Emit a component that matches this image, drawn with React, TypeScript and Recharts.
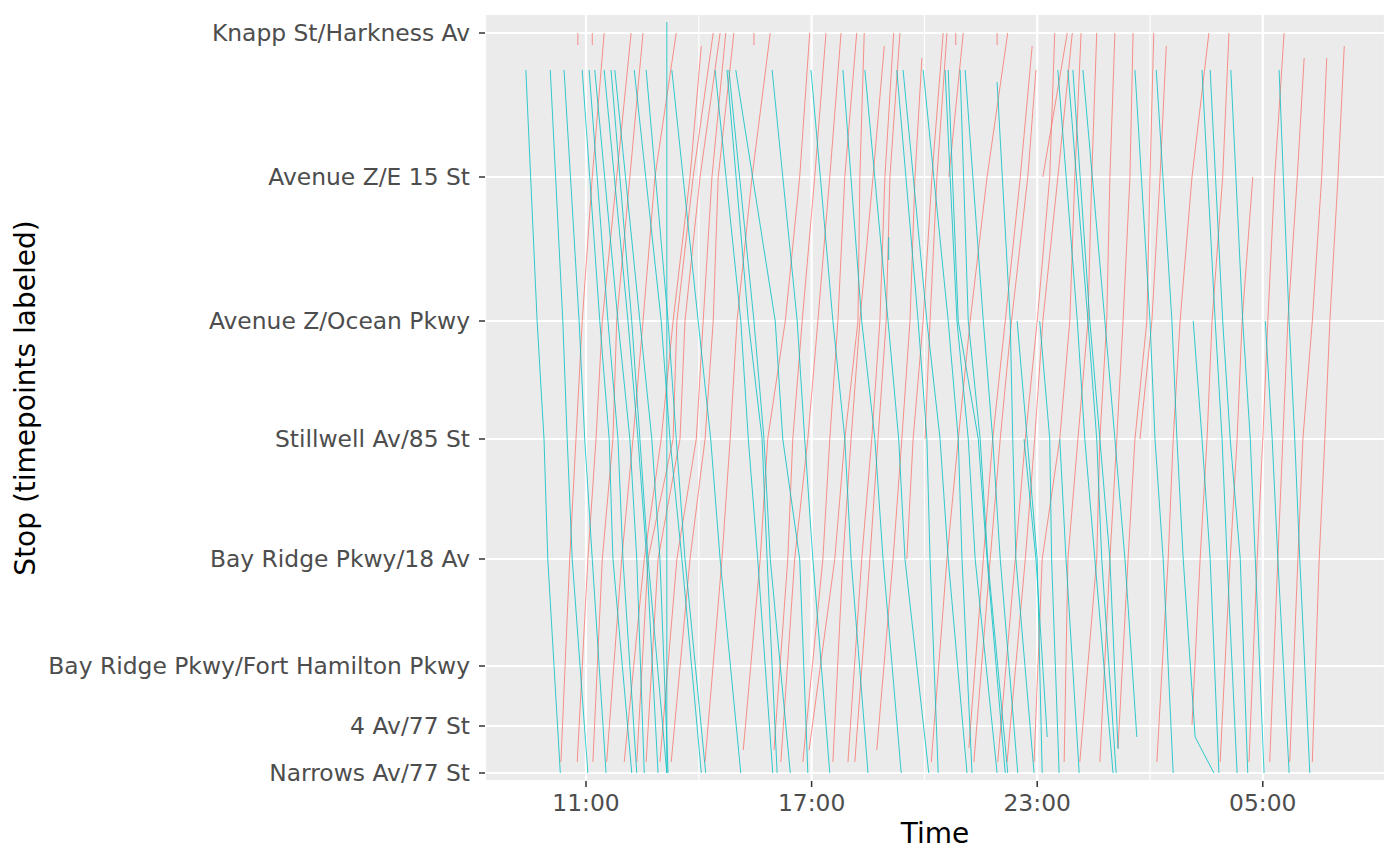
import React from 'react';
import { LineChart, Line, XAxis, YAxis, CartesianGrid } from 'recharts';

// Timepoint stops along the route, with their position along the line (bottom = Narrows)
const STOPS = [
  'Narrows Av/77 St',
  '4 Av/77 St',
  'Bay Ridge Pkwy/Fort Hamilton Pkwy',
  'Bay Ridge Pkwy/18 Av',
  'Stillwell Av/85 St',
  'Avenue Z/Ocean Pkwy',
  'Avenue Z/E 15 St',
  'Knapp St/Harkness Av',
];
const STOP_DIST = [0, 0.47, 1.07, 2.14, 3.34, 4.52, 5.96, 7.4];

const TIME_TICKS = [11, 17, 23, 29];
const TIME_MINOR = [14, 20, 26];

// Stops where southbound (toward Narrows) trips are logged
const SOUTH_AT = [7.03, 4.52, 3.34, 2.14, 0.36, 0];
// Stops where northbound (toward Knapp St) trips are logged
const NORTH_AT = [0.11, 2.14, 3.34, 4.52, 5.96, 7.4];

type Row = (string | null)[] | { t: (string | null)[]; from?: number; to?: number };

const southbound: Row[] = [
  ['9:24', '9:42', '9:53', '9:59', null, '10:19'],
  ['10:03', '10:23', '10:30', '10:38', null, '11:03'],
  ['10:25', '10:49', '10:58', '11:10', null, '11:32'],
  ['10:54', '11:22', '11:37', '11:43', null, '12:13'],
  ['11:05', '11:35', '11:51', '11:59', null, '12:21'],
  ['11:14', '11:51', '12:10', '12:21', null, '12:33'],
  ['11:29', '12:07', '12:23', '12:37', null, '12:55'],
  ['11:40', '12:13', '12:26', '12:39', null, '13:09'],
  ['11:46', '12:26', '12:45', '12:58', null, '13:11'],
  ['12:17', '13:00', '13:14', '13:33', null, '14:04'],
  ['12:36', '13:11', '13:24', '13:38', null, '14:11'],
  { t: ['13:09', null, null, null, null, '13:09'], from: 7.51 },
  ['13:17', '13:59', '14:19', '14:34', null, '15:07'],
  ['14:26', '15:07', '15:19', '15:34', null, '15:58'],
  ['14:45', '15:19', '15:41', '15:49', null, '16:05'],
  ['14:48', '15:28', '15:44', '15:54', null, '16:26'],
  ['14:59', '16:02', '16:14', '16:41', null, '16:54'],
  ['15:57', '16:37', '16:49', '17:02', null, '17:29'],
  ['16:59', '17:34', '17:53', '18:03', null, '18:30'],
  ['17:50', '18:20', '18:41', '18:54', null, '19:23'],
  ['18:25', '19:02', '19:19', '19:29', null, '20:07'],
  { t: ['19:03', '19:03', null, null, null, null], from: 5.36, to: 5.13 },
  ['19:16', '19:50', '20:04', '20:09', null, '20:22'],
  ['19:26', '20:04', '20:25', '20:38', null, '21:08'],
  ['19:58', '20:38', '20:54', '21:00', null, '21:16'],
  ['20:33', '20:52', '21:10', '21:21', null, '21:56'],
  ['20:38', '20:54', '21:26', '21:40', null, '22:09'],
  ['20:57', '21:10', '21:29', '21:41', null, '22:13'],
  ['21:05', '21:34', '21:49', '22:01', null, '22:29'],
  { t: ['21:56', '22:17', '22:21', '22:26', null, '22:55'], from: 6.91 },
  [null, '22:28', '22:44', '23:00', null, '23:08'],
  [null, null, '22:39', '22:58', '23:16', null],
  [null, '23:04', '23:20', '23:23', null, '23:35'],
  [null, null, '23:36', '23:46', null, '24:07'],
  ['23:33', '24:04', '24:16', '24:32', null, '25:01'],
  ['23:49', '24:21', '24:35', '24:43', null, '25:06'],
  { t: ['23:57', '24:24', '24:40', '24:56', '25:09', null], to: 0.24 },
  ['24:13', '24:48', '25:04', '25:20', '25:39', null],
  ['25:36', '26:00', '26:08', '26:21', null, '26:37'],
  ['26:10', '26:35', '26:43', '26:53', '27:12', '27:42'],
  [null, '27:09', '27:23', '27:36', null, '27:50'],
  ['27:23', '27:44', '27:55', '28:03', null, '28:19'],
  ['27:36', '27:56', '28:08', '28:24', null, '28:36'],
  ['28:09', '28:28', '28:40', '28:48', null, '29:02'],
  [null, '29:04', '29:15', '29:24', null, '29:42'],
  ['29:26', '29:42', '29:51', '29:59', null, '30:15'],
];

const northbound: Row[] = [
  ['10:20', '10:34', '10:44', '10:54', '11:10', '11:29'],
  ['10:46', '11:03', '11:16', '11:26', '11:49', '12:12'],
  ['11:11', '11:26', '11:43', '11:49', '12:10', '12:31'],
  ['11:33', '11:57', '12:15', '12:31', '12:50', '13:24'],
  { t: ['12:01', '12:33', '13:00', '13:19', '13:46', '14:04'], to: 7.27 },
  ['12:21', '12:39', '13:19', '13:25', '13:51', '14:23'],
  ['12:36', '12:55', '13:30', '13:38', '14:02', '14:34'],
  ['12:58', '13:25', '13:56', '14:07', '14:21', '14:43'],
  ['13:16', '13:46', '14:10', '14:23', '14:31', '14:56'],
  ['14:10', '14:37', '14:50', '15:01', '15:25', '15:54'],
  { t: ['15:11', '15:38', '15:50', '16:18', '16:41', '16:57'], from: 0.23 },
  { t: ['16:00', '16:22', '16:30', '16:45', '17:05', '17:23'], from: 0.23 },
  ['16:11', '16:33', '16:54', '17:10', '17:29', '17:47'],
  ['16:46', '17:18', '17:29', '17:42', '17:53', '18:12'],
  { t: ['16:56', '17:37', '17:53', '18:14', '18:17', '18:24'], from: 0.23 },
  { t: ['17:34', '17:50', '18:03', '18:17', '18:38', '18:56'], to: 7.27 },
  ['17:58', '18:20', '18:36', '18:49', '18:57', '19:11'],
  ['18:09', '18:33', '18:46', '18:59', '19:05', '19:21'],
  { t: ['18:44', '19:10', '19:24', '19:37', '19:45', '19:56'], from: 0.23, to: 7.15 },
  [null, '19:32', '19:42', '19:58', '20:12', '20:30'],
  [null, null, '20:01', '20:09', '20:20', '20:36'],
  [null, null, null, null, '20:39', '21:02'],
  ['20:11', '20:36', '20:54', '21:13', '21:40', '22:13'],
  { t: ['21:11', '21:34', '21:49', '22:09', '22:33', '22:52'], from: 0.25, to: 7.27 },
  { t: ['21:19', '21:45', '22:01', '22:19', '22:45', '22:58'], to: 7.03 },
  ['21:57', '22:25', '22:41', '23:00', '23:20', '23:28'],
  ['22:12', '22:41', '22:56', '23:09', '23:33', '23:56'],
  [null, null, null, null, '23:09', '23:48'],
  ['22:55', '23:08', '23:36', '23:52', '24:00', '24:10'],
  ['23:43', '23:49', '24:05', '24:21', '24:27', '24:35'],
  ['24:08', '24:35', '24:40', '24:51', '24:56', '25:04'],
  ['24:40', '24:56', '25:07', '25:17', '25:28', '25:33'],
  { t: ['25:09', '25:25', '25:36', '25:55', '26:00', '26:06'], from: 0.25 },
  { t: [null, null, '25:44', '26:03', '26:16', '26:26'], to: 7.27 },
  ['26:11', '26:29', '26:37', '26:48', '27:07', '27:34'],
  { t: ['27:07', '27:20', '27:31', '27:39', '27:56', '28:06'], from: 0.48 },
  ['27:52', '28:08', '28:19', '28:27', '28:44', null],
  ['28:38', '28:51', '29:00', '29:08', '29:19', '29:34'],
  { t: ['29:11', '29:24', '29:32', '29:40', '29:55', '30:06'], to: 7.15 },
  { t: ['29:43', '29:56', '30:04', '30:19', '30:34', '30:42'], to: 7.15 },
  { t: ['30:19', '30:30', '30:39', '30:47', '31:00', '31:10'], to: 7.27 },
  // short stubs recorded only near the Knapp St end
  { t: [null, null, null, null, '10:47', '10:47'], from: 7.28 },
  { t: [null, null, null, null, '11:10', '11:10'], from: 7.28 },
  { t: [null, null, null, null, '15:28', '15:28'], from: 7.28 },
  { t: [null, null, null, null, '20:50', '20:50'], from: 7.28 },
  { t: [null, null, null, null, '21:56', '21:56'], from: 7.28 },
];

const toHours = (s: string) => {
  const [h, m] = s.split(':').map(Number);
  return h + m / 60;
};

const fmtHour = (v: number) => String(Math.round(v) % 24).padStart(2, '0') + ':00';

const fmtStop = (v: number) => {
  const i = STOP_DIST.findIndex((d) => Math.abs(d - v) < 1e-6);
  return i >= 0 ? STOPS[i] : '';
};

function buildTrips(rows: Row[], levels: number[]) {
  return rows.map((r) => {
    const row = Array.isArray(r) ? { t: r } : r;
    const pts: { t: number; d: number }[] = [];
    row.t.forEach((s, i) => {
      if (s) pts.push({ t: toHours(s), d: levels[i] });
    });
    if (row.from != null) pts[0].d = row.from;
    if (row.to != null) pts[pts.length - 1].d = row.to;
    return pts;
  });
}

const southTrips = buildTrips(southbound, SOUTH_AT);
const northTrips = buildTrips(northbound, NORTH_AT);

const FONT = '"DejaVu Sans", Verdana, sans-serif';

export default function App() {
  return (
    <div style={{ position: 'absolute', left: 0, top: 0, width: 1400, height: 865, background: '#fff' }}>
      <LineChart width={1400} height={865} margin={{ top: 14, right: 15, bottom: 0, left: 0 }}>
        <CartesianGrid fill="#EBEBEB" fillOpacity={1} stroke="#FFFFFF" strokeWidth={2.2} />
        <CartesianGrid verticalValues={TIME_MINOR} horizontal={false} stroke="#FFFFFF" strokeWidth={1.1} />
        <XAxis
          type="number"
          dataKey="t"
          domain={[8.314, 32.25]}
          allowDataOverflow
          ticks={TIME_TICKS}
          tickFormatter={fmtHour}
          height={84}
          axisLine={false}
          tickSize={6}
          tickMargin={7}
          tickLine={{ stroke: '#333333', strokeWidth: 1.5 }}
          tick={{ fill: '#4D4D4D', fontSize: 23.4, fontFamily: FONT }}
        />
        <YAxis
          type="number"
          domain={[-0.08, 7.59]}
          allowDataOverflow
          ticks={STOP_DIST}
          interval={0}
          tickFormatter={fmtStop}
          width={485}
          axisLine={false}
          tickSize={6}
          tickMargin={9}
          tickLine={{ stroke: '#333333', strokeWidth: 1.5 }}
          tick={{ fill: '#4D4D4D', fontSize: 23.4, fontFamily: FONT }}
        />
        {northTrips.map((pts, i) => (
          <Line
            key={`n${i}`}
            data={pts}
            dataKey="d"
            type="linear"
            stroke="#F8766D"
            strokeWidth={0.8}
            dot={false}
            activeDot={false}
            isAnimationActive={false}
          />
        ))}
        {southTrips.map((pts, i) => (
          <Line
            key={`s${i}`}
            data={pts}
            dataKey="d"
            type="linear"
            stroke="#00BFC4"
            strokeWidth={0.8}
            dot={false}
            activeDot={false}
            isAnimationActive={false}
          />
        ))}
      </LineChart>
      <svg
        width={1400}
        height={865}
        style={{ position: 'absolute', left: 0, top: 0, pointerEvents: 'none' }}
      >
        <text x={935} y={843} textAnchor="middle" fontSize={28} fontFamily={FONT} fill="#000">
          Time
        </text>
        <text
          x={35}
          y={398}
          textAnchor="middle"
          fontSize={28}
          fontFamily={FONT}
          fill="#000"
          transform="rotate(-90 35 398)"
        >
          Stop (timepoints labeled)
        </text>
      </svg>
    </div>
  );
}
